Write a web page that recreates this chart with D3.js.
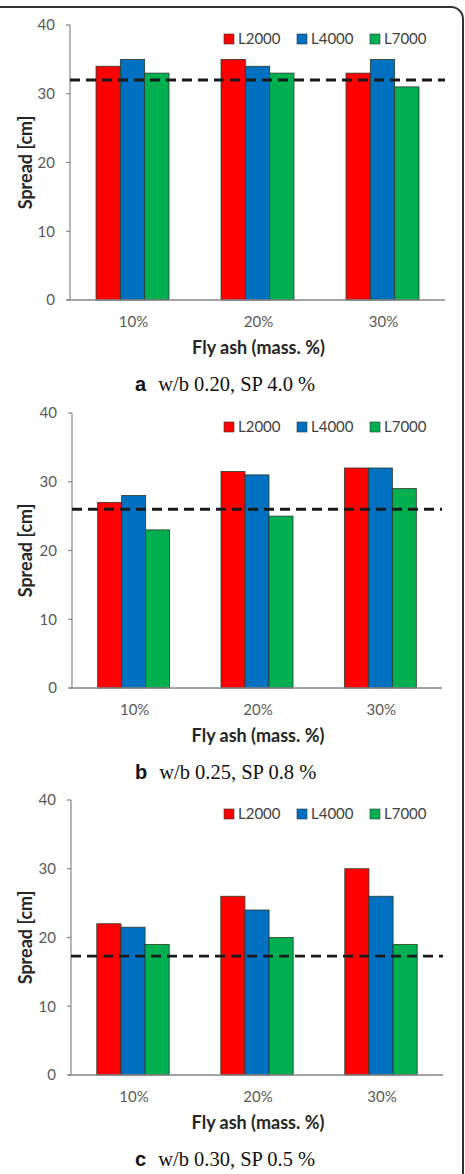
<!DOCTYPE html>
<html lang="en">
<head>
  <meta charset="UTF-8">
  <title>Spread vs fly ash</title>
  <script src="https://d3js.org/d3.v7.min.js"></script>
  <style>
    body { margin: 0; background: white; }
    .tickText { font-family: Lato, "Open Sans", sans-serif; font-size: 15px; fill: #595959; }
    .legendText { font-family: Lato, "Open Sans", sans-serif; font-size: 15px; fill: #404040; }
    .axisTitle { font-family: Lato, "Open Sans", sans-serif; font-size: 18px; font-weight: bold; fill: #262626; }
    .capLetter { font-family: "Liberation Sans", Arial, sans-serif; font-size: 20px; font-weight: bold; fill: #111; }
    .capText { font-family: "Liberation Serif", "Times New Roman", serif; font-size: 20.5px; fill: #111; }
  </style>
</head>
<body>
<div id="chart"></div>
<script>
  // data
  const categories = ["10%", "20%", "30%"];
  const series = ["L2000", "L4000", "L7000"];
  const yTicks = [0, 10, 20, 30, 40];

  // values per series (L2000, L4000, L7000) for each panel
  const valuesA = [[34, 35, 33], [35, 34, 35], [33, 33, 31]];
  const valuesB = [[27, 31.5, 32], [28, 31, 32], [23, 25, 29]];
  const valuesC = [[22, 26, 30], [21.5, 24, 26], [19, 20, 19]];
  const refLines = [32, 26, 17.3];
  const capLetters = ["a", "b", "c"];
  const capTexts = ["w/b 0.20, SP 4.0 %", "w/b 0.25, SP 0.8 %", "w/b 0.30, SP 0.5 %"];

  const colors = ["#ff0000", "#0070c0", "#00b050"];

  // panel layout (pixel positions of the plot areas)
  const panels = [
    { values: valuesA, top: 25, zero: 300, left: 70, right: 445 },
    { values: valuesB, top: 413, zero: 688, left: 72, right: 442 },
    { values: valuesC, top: 800, zero: 1075, left: 71, right: 443 }
  ];

  const width = 465, height = 1174;
  const svg = d3.select("#chart").append("svg")
      .attr("width", width)
      .attr("height", height);

  // rounded frame round the figure (left side cut off)
  svg.append("rect")
      .attr("x", -12).attr("y", 7)
      .attr("width", 475).attr("height", 1200)
      .attr("rx", 12)
      .attr("fill", "none")
      .attr("stroke", "#333")
      .attr("stroke-width", 2);

  panels.forEach((p, pi) => {
    const g = svg.append("g");

    const y = d3.scaleLinear().domain([0, 40]).range([p.zero, p.top]);
    const x0 = d3.scaleBand().domain(categories).range([p.left, p.right]);
    const x1 = d3.scaleBand().domain(series).range([0, x0.bandwidth()])
        .paddingInner(0).paddingOuter(1.07);

    // y axis
    g.append("line")
        .attr("x1", p.left).attr("x2", p.left)
        .attr("y1", p.top).attr("y2", p.zero)
        .attr("stroke", "#868686").attr("stroke-width", 1.2);
    g.selectAll(".ytick").data(yTicks).enter().append("line")
        .attr("x1", p.left - 4).attr("x2", p.left)
        .attr("y1", d => y(d)).attr("y2", d => y(d))
        .attr("stroke", "#868686").attr("stroke-width", 1.2);
    g.selectAll(".ylab").data(yTicks).enter().append("text")
        .attr("class", "tickText")
        .attr("x", p.left - 15)
        .attr("y", d => y(d))
        .attr("dy", "0.35em")
        .attr("text-anchor", "end")
        .text(d => d);

    // bars
    series.forEach((s, si) => {
      g.selectAll(".bar" + si).data(p.values[si]).enter().append("rect")
          .attr("x", (d, i) => x0(categories[i]) + x1(s))
          .attr("y", d => y(d))
          .attr("width", x1.bandwidth())
          .attr("height", d => p.zero - y(d))
          .attr("fill", colors[si])
          .attr("stroke", "#2b3a2b")
          .attr("stroke-width", 0.8);
    });

    // x axis
    g.append("line")
        .attr("x1", p.left - 3).attr("x2", p.right)
        .attr("y1", p.zero).attr("y2", p.zero)
        .attr("stroke", "#868686").attr("stroke-width", 1.5);
    g.selectAll(".xlab").data(categories).enter().append("text")
        .attr("class", "tickText")
        .attr("x", d => x0(d) + x0.bandwidth() / 2 + 1)
        .attr("y", p.zero + 27)
        .attr("text-anchor", "middle")
        .text(d => d);

    // reference line
    g.append("line")
        .attr("x1", p.left).attr("x2", p.right)
        .attr("y1", y(refLines[pi])).attr("y2", y(refLines[pi]))
        .attr("stroke", "#1a1a1a")
        .attr("stroke-width", 2.8)
        .attr("stroke-dasharray", "10,6");

    // legend
    const legend = g.selectAll(".leg").data(series).enter().append("g")
        .attr("transform", (d, i) => `translate(${224 + i * 73},${p.top + 9})`);
    legend.append("rect")
        .attr("width", 10).attr("height", 10)
        .attr("fill", (d, i) => colors[i])
        .attr("stroke", "#333").attr("stroke-width", 0.6);
    legend.append("text")
        .attr("class", "legendText")
        .attr("x", 14).attr("y", 10)
        .text(d => d);

    // axis titles
    g.append("text")
        .attr("class", "axisTitle")
        .attr("transform", `translate(32,${(p.top + p.zero) / 2}) rotate(-90)`)
        .attr("text-anchor", "middle")
        .text("Spread [cm]");
    g.append("text")
        .attr("class", "axisTitle")
        .attr("x", (p.left + p.right) / 2 + 1)
        .attr("y", p.zero + 54)
        .attr("text-anchor", "middle")
        .text("Fly ash (mass. %)");

    // caption
    const cap = g.append("text")
        .attr("x", 135)
        .attr("y", p.zero + 91);
    cap.append("tspan").attr("class", "capLetter").text(capLetters[pi]);
    cap.append("tspan").attr("class", "capText").attr("dx", 12).text(capTexts[pi]);
  });
</script>
</body>
</html>
